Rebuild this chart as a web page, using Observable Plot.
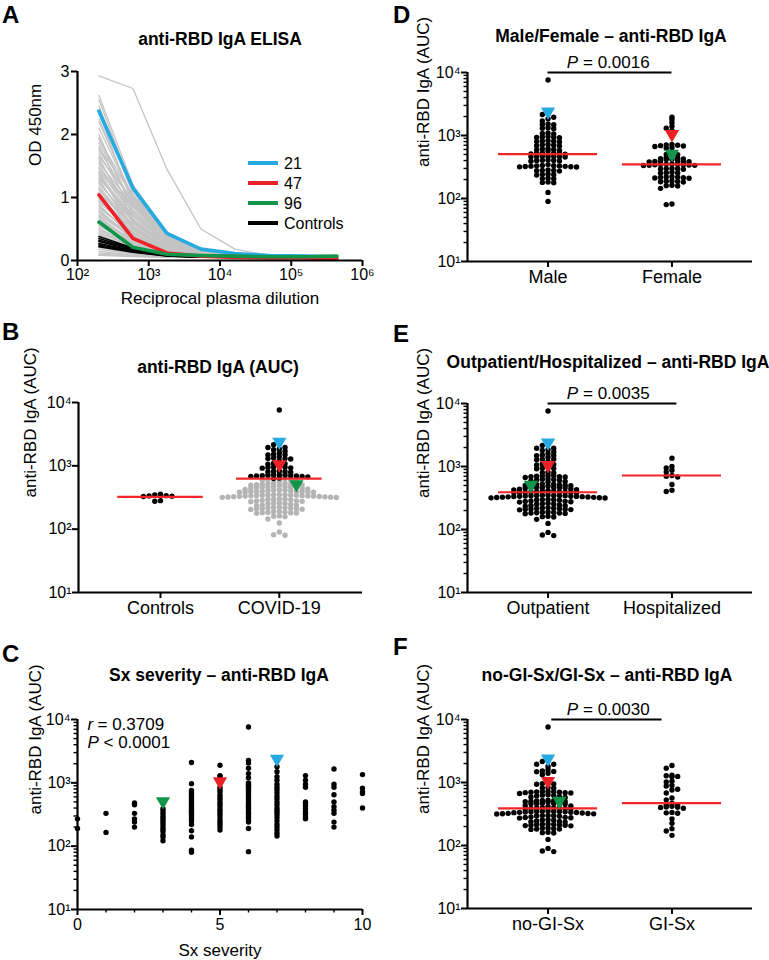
<!DOCTYPE html>
<html><head><meta charset="utf-8">
<script src="https://cdn.jsdelivr.net/npm/d3@7"></script>
<script src="https://cdn.jsdelivr.net/npm/@observablehq/plot@0.6"></script>
<style>
body{margin:0;background:#fff;}
#fig{position:relative;width:769px;height:960px;background:#fff;overflow:hidden;}
#fig svg{position:absolute;}
</style></head><body><div id="fig"></div>
<script>
// ---------------- DATA ----------------
// Panel A: ELISA dilution curves (OD 450nm at each reciprocal plasma dilution)
const dilutions = [200, 600, 1800, 5400, 16200, 48600, 145800, 437400];
const grayCurves = [
  [2.93,2.73,1.45,0.50,0.18,0.08,0.07,0.06],
  [2.62,1.20,0.45,0.17,0.09,0.06,0.06,0.05],
  [2.55,1.10,0.40,0.16,0.08,0.06,0.05,0.05],
  [2.45,1.05,0.38,0.15,0.08,0.06,0.05,0.05],
  [2.35,0.88,0.30,0.12,0.07,0.05,0.05,0.05],
  [2.25,0.95,0.35,0.13,0.07,0.06,0.05,0.05],
  [2.20,1.00,0.36,0.14,0.08,0.06,0.05,0.05],
  [2.10,0.98,0.37,0.14,0.07,0.05,0.05,0.05],
  [2.00,0.78,0.29,0.11,0.07,0.05,0.05,0.05],
  [1.95,0.85,0.31,0.12,0.07,0.05,0.05,0.05],
  [1.92,1.02,0.40,0.15,0.08,0.06,0.05,0.05],
  [1.87,0.90,0.33,0.12,0.07,0.05,0.05,0.05],
  [1.82,0.72,0.27,0.11,0.06,0.05,0.05,0.05],
  [1.78,1.05,0.42,0.15,0.08,0.06,0.05,0.05],
  [1.75,0.92,0.36,0.13,0.07,0.05,0.05,0.05],
  [1.70,0.80,0.30,0.11,0.07,0.05,0.05,0.05],
  [1.65,0.95,0.38,0.14,0.07,0.05,0.05,0.05],
  [1.62,0.66,0.25,0.10,0.06,0.05,0.05,0.05],
  [1.58,0.75,0.28,0.11,0.06,0.05,0.05,0.05],
  [1.55,0.88,0.34,0.12,0.07,0.05,0.05,0.05],
  [1.52,0.70,0.27,0.10,0.06,0.05,0.05,0.05],
  [1.48,0.64,0.24,0.10,0.06,0.05,0.05,0.05],
  [1.46,0.85,0.32,0.12,0.07,0.05,0.05,0.05],
  [1.42,0.78,0.30,0.11,0.06,0.05,0.05,0.05],
  [1.40,0.62,0.24,0.09,0.06,0.05,0.05,0.05],
  [1.38,0.52,0.20,0.09,0.06,0.05,0.05,0.05],
  [1.35,0.60,0.22,0.09,0.06,0.05,0.05,0.05],
  [1.32,0.66,0.25,0.10,0.06,0.05,0.05,0.05],
  [1.30,0.72,0.26,0.10,0.06,0.05,0.05,0.05],
  [1.28,0.48,0.19,0.08,0.06,0.05,0.05,0.05],
  [1.25,0.55,0.20,0.08,0.06,0.05,0.05,0.05],
  [1.22,0.62,0.23,0.09,0.06,0.05,0.05,0.05],
  [1.18,0.50,0.19,0.08,0.06,0.05,0.05,0.05],
  [1.15,0.44,0.17,0.08,0.05,0.05,0.05,0.05],
  [1.12,0.58,0.22,0.09,0.06,0.05,0.05,0.05],
  [1.08,0.54,0.20,0.08,0.05,0.05,0.05,0.05],
  [1.05,0.45,0.17,0.08,0.05,0.05,0.05,0.05],
  [1.02,0.38,0.15,0.07,0.05,0.05,0.05,0.05],
  [0.98,0.42,0.16,0.07,0.05,0.05,0.05,0.05],
  [0.95,0.52,0.19,0.08,0.05,0.05,0.05,0.05],
  [0.92,0.48,0.18,0.08,0.05,0.05,0.05,0.05],
  [0.89,0.36,0.14,0.07,0.05,0.05,0.05,0.05],
  [0.86,0.38,0.15,0.07,0.05,0.05,0.05,0.05],
  [0.83,0.44,0.16,0.07,0.05,0.05,0.05,0.05],
  [0.80,0.35,0.14,0.07,0.05,0.05,0.05,0.05],
  [0.78,0.32,0.13,0.06,0.05,0.05,0.05,0.05],
  [0.75,0.40,0.15,0.07,0.05,0.05,0.05,0.05],
  [0.72,0.37,0.14,0.06,0.05,0.05,0.05,0.05],
  [0.70,0.30,0.12,0.06,0.05,0.05,0.05,0.05],
  [0.68,0.27,0.11,0.06,0.05,0.05,0.05,0.05],
  [0.65,0.28,0.11,0.06,0.05,0.05,0.05,0.05],
  [0.62,0.34,0.13,0.06,0.05,0.05,0.05,0.05],
  [0.58,0.25,0.10,0.06,0.05,0.05,0.05,0.05],
  [0.55,0.28,0.11,0.06,0.05,0.05,0.05,0.05],
  [0.52,0.22,0.09,0.06,0.05,0.05,0.05,0.05],
  [0.50,0.19,0.08,0.05,0.05,0.05,0.05,0.05],
  [0.47,0.20,0.09,0.06,0.05,0.05,0.05,0.05],
  [0.44,0.21,0.09,0.06,0.05,0.05,0.05,0.05],
  [0.42,0.18,0.08,0.05,0.05,0.05,0.05,0.05],
  [0.39,0.15,0.07,0.05,0.05,0.05,0.05,0.05],
  [0.36,0.16,0.08,0.05,0.05,0.05,0.05,0.05],
  [0.33,0.17,0.08,0.05,0.05,0.05,0.05,0.05],
  [0.30,0.14,0.07,0.05,0.05,0.05,0.05,0.05],
  [0.27,0.11,0.06,0.05,0.05,0.05,0.05,0.05],
  [0.24,0.12,0.07,0.05,0.05,0.05,0.05,0.05],
  [0.21,0.11,0.06,0.05,0.05,0.05,0.05,0.05],
  [0.18,0.10,0.06,0.05,0.05,0.05,0.05,0.05],
  [0.15,0.08,0.06,0.05,0.05,0.05,0.05,0.05],
  [0.12,0.08,0.06,0.05,0.05,0.05,0.05,0.05],
  [0.10,0.07,0.05,0.05,0.05,0.05,0.05,0.05],
  [0.08,0.06,0.05,0.05,0.05,0.05,0.05,0.05]
];
const controlCurves = [
  [0.38,0.20,0.10,0.06,0.05,0.05,0.06,0.05],
  [0.35,0.19,0.09,0.06,0.05,0.05,0.05,0.05],
  [0.32,0.18,0.09,0.06,0.05,0.05,0.08,0.05],
  [0.30,0.17,0.08,0.06,0.05,0.05,0.05,0.05],
  [0.27,0.16,0.08,0.05,0.05,0.05,0.05,0.05],
  [0.25,0.15,0.08,0.05,0.05,0.05,0.05,0.05],
  [0.23,0.14,0.07,0.05,0.05,0.05,0.05,0.05],
  [0.22,0.13,0.07,0.05,0.05,0.05,0.05,0.05]
];
const curve21 = [2.37,1.15,0.43,0.18,0.11,0.08,0.07,0.06];
const curve47 = [1.04,0.35,0.12,0.07,0.05,0.04,0.04,0.03];
const curve96 = [0.61,0.21,0.10,0.08,0.07,0.06,0.06,0.07];

// Highlighted participants
const hlIds = ["21", "47", "96"];
const hlAUC = [2400, 1050, 510];
const hlSex = ["Male", "Female", "Female"];
const hlSeverity = [7, 5, 3];
const hlColors = ["#27aae1", "#ec2227", "#10954a"];

// AUC values
const ctrlAUC = [355, 348, 338, 335, 332, 328, 282, 276];
const maleAUC = [7600, 2250, 2150, 1950, 1850, 1700, 1520, 1500, 1480, 1330, 1300, 1280, 1100, 1080, 1060,
  960, 950, 940, 930, 920, 830, 820, 810, 800, 790, 720, 710, 700, 690, 680, 620, 610, 600, 590, 580, 570,
  530, 525, 520, 515, 510, 505, 470, 468, 465, 462, 460, 458, 455, 410, 405, 400, 398, 395, 390,
  345, 335, 332, 330, 328, 326, 324, 322, 320, 318, 316, 285, 280, 278, 275, 272, 245, 240, 238, 235,
  210, 207, 205, 182, 180, 178, 125, 90];
const femaleAUC = [1950, 1800, 1600, 1400, 1300, 1200, 720, 710, 700, 690, 680, 670, 640, 630, 500, 495, 490,
  440, 435, 430, 425, 420, 415, 395, 390, 388, 386, 384, 382, 352, 350, 348, 346, 344, 342, 340, 338, 336, 334,
  300, 298, 296, 294, 292, 260, 257, 255, 252, 222, 220, 218, 216, 214, 212, 210, 190, 188, 186, 184, 182,
  162, 160, 158, 145, 82, 80];
const hospitalizedAUC = [1350, 1000, 950, 870, 820, 720, 700, 680, 520, 420, 400];
const giAUC = [1860, 1690, 1300, 1280, 1250, 1230, 1050, 1020, 900, 880, 780, 760, 680, 570, 530, 470,
  440, 440, 420, 410, 405, 400, 390, 335, 330, 325, 265, 225, 185, 170, 145];
const severityLevels = [0, 1, 2, 3, 4, 5, 6, 7, 8, 9, 10];
const severityAUC = [
  [270, 190],
  [330, 165],
  [480, 450, 330, 270, 240, 200],
  [390, 360, 330, 300, 280, 260, 240, 220, 200, 185, 170, 150, 140, 122],
  [2100, 970, 760, 700, 650, 600, 560, 520, 480, 450, 420, 390, 370, 350, 330, 310, 290, 270, 250, 220, 175, 140, 86, 80],
  [1900, 1300, 1250, 850, 780, 720, 650, 600, 550, 500, 460, 420, 380, 350, 320, 290, 260, 240, 220, 200, 180],
  [7600, 2250, 2050, 1700, 1400, 1200, 1000, 950, 900, 850, 800, 750, 700, 650, 600, 560, 520, 480, 450, 420, 400, 380, 350, 330, 300, 280, 260, 240, 190, 82],
  [1800, 1500, 1250, 1100, 950, 850, 780, 700, 620, 560, 500, 450, 400, 370, 340, 310, 280, 250, 220, 200, 180, 160, 145],
  [1300, 1100, 950, 850, 500, 470, 430, 390, 350, 320, 290, 270],
  [1650, 950, 850, 650, 500, 420, 370, 330, 240, 200],
  [1350, 820, 720, 680, 400]
];
const pValues = {D: "0.0016", E: "0.0035", F: "0.0030"};

// ---------------- HELPERS ----------------
const FONT = "'Liberation Sans', Arial, Helvetica, sans-serif";
const RED = "#f2262a";
const SUP = {1: "\u00b9", 2: "\u00b2", 3: "\u00b3", 4: "\u2074", 5: "\u2075", 6: "\u2076"};
const pow10 = d => "10" + SUP[Math.round(Math.log10(d))];
const fig = document.getElementById("fig");
const minorTicks = [];
for (const dec of [10, 100, 1000]) for (let k = 2; k <= 9; k++) minorTicks.push(dec * k);

function style(left, top) {
  return {position: "absolute", left: left + "px", top: top + "px", background: "transparent",
    overflow: "visible", fontFamily: FONT, fontSize: "16px", color: "black"};
}
function margins(box, frame) {
  const [sx, sy, sw, sh] = box, [L, R, T, B] = frame;
  return {width: sw, height: sh, marginLeft: L - sx, marginRight: sx + sw - R, marginTop: T - sy, marginBottom: sy + sh - B};
}
// remove the nearest matching value of each given value from a pool
function without(all, removed) {
  const pool = all.slice();
  for (const r of removed) {
    let bi = 0, bd = Infinity;
    pool.forEach((v, i) => { const d = Math.abs(Math.log(v) - Math.log(r)); if (d < bd) { bd = d; bi = i; } });
    pool.splice(bi, 1);
  }
  return pool;
}
// column-scatter layout: bin values into rows, spread each row on a shared column grid
const PX_DEC = 63.2, ROW_PX = 4.2, COL_PX = 5.7;
function swarm(groups, pxPerUnit) {
  const out = [];
  groups.forEach(({values, hl}, g) => {
    const its = values.map(v => ({g, v, hl: -1})).concat((hl || []).map(k => ({g, v: hlAUC[k], hl: k})));
    const bins = d3.group(its, d => Math.round(Math.log10(d.v) * PX_DEC / ROW_PX));
    for (const arr of bins.values()) {
      arr.sort((a, b) => b.v - a.v);
      arr.forEach((d, i) => {
        const slot = i === 0 ? 0 : (i % 2 ? -(i + 1) / 2 : i / 2);
        d.x = g + slot * COL_PX / pxPerUnit; out.push(d);
      });
    }
  });
  return out;
}
function triangles(rows, xk, yk) {
  return hlIds.map((id, k) => Plot.dot(rows.filter(d => d.hl === k), {x: xk, y: yk, symbol: "triangle", r: 5.3, rotate: 180, fill: hlColors[k]}));
}
function logYAxes(minor, labelDx) {
  const m = [
    Plot.axisY({ticks: [10, 100, 1000, 10000], tickFormat: pow10, tickSize: 6, tickPadding: 1, strokeWidth: 2, label: null, fontSize: 16}),
    Plot.text(["anti-RBD IgA (AUC)"], {frameAnchor: "left", dx: labelDx, rotate: -90, lineAnchor: "middle", fontSize: 17})
  ];
  if (minor) m.push(Plot.axisY({ticks: minorTicks, tickSize: 3.5, strokeWidth: 1.4, tickFormat: () => "", label: null}));
  return m;
}

function swarmPanel({box, frame, xDomain, labels, groups, stat, half, grayBelow, pBar, minor, labelDx}) {
  const pxPerUnit = (frame[1] - frame[0]) / (xDomain[1] - xDomain[0]);
  const rows = swarm(groups, pxPerUnit);
  const stats = groups.map((gr, g) => ({g, m: stat(rows.filter(d => d.g === g).map(d => d.v))}));
  const dots = rows.filter(d => d.hl < 0);
  const marks = [
    Plot.ruleX([xDomain[0]], {stroke: "black", strokeWidth: 2.2}),
    Plot.ruleY([10], {stroke: "black", strokeWidth: 2.2}),
    ...logYAxes(minor, labelDx),
    Plot.axisX({ticks: labels.map((l, i) => i), tickFormat: i => labels[i], tickSize: 6, tickPadding: 3, strokeWidth: 2, label: null, fontSize: 18})
  ];
  if (grayBelow) {
    marks.push(Plot.dot(dots.filter(d => d.g === 1 && d.v <= stats[1].m), {x: "x", y: "v", r: 2.7, fill: "#b4b4b4"}));
    marks.push(Plot.dot(dots.filter(d => !(d.g === 1 && d.v <= stats[1].m)), {x: "x", y: "v", r: 2.7, fill: "black"}));
  } else {
    marks.push(Plot.dot(dots, {x: "x", y: "v", r: 2.7, fill: "black"}));
  }
  marks.push(Plot.ruleY(stats, {x1: d => d.g - half, x2: d => d.g + half, y: "m", stroke: RED, strokeWidth: 2.2}));
  marks.push(...triangles(rows, "x", "v"));
  if (pBar) {
    marks.push(Plot.ruleY([10000], {x1: pBar.x1, x2: pBar.x2, stroke: "black", strokeWidth: 2}));
    marks.push(Plot.text(["P"], {x: 0.5, y: 10000, dx: -32, dy: -5, textAnchor: "end", lineAnchor: "bottom", fontStyle: "italic", fontSize: 17}));
    marks.push(Plot.text(["= " + pBar.p], {x: 0.5, y: 10000, dx: -27, dy: -5, textAnchor: "start", lineAnchor: "bottom", fontSize: 17}));
  }
  return Plot.plot({
    ...margins(box, frame),
    style: style(box[0], box[1]),
    x: {domain: xDomain},
    y: {type: "log", domain: [10, 10000]},
    marks
  });
}

// ---------------- PANEL A ----------------
function longRows(curves, prefix) {
  const r = [];
  curves.forEach((c, i) => c.forEach((od, j) => r.push({id: prefix + i, dil: dilutions[j], od})));
  return r;
}
const grayRows = longRows(grayCurves, "g");
const ctrlRows = longRows(controlCurves, "c");
const hlCurves = [curve21, curve47, curve96];
{
  const box = [0, 50, 384, 265], frame = [77, 362, 71, 260];
  const marks = [
    Plot.line(grayRows, {x: "dil", y: "od", z: "id", stroke: "#c4c4c4", strokeWidth: 1.3}),
    Plot.line(ctrlRows, {x: "dil", y: "od", z: "id", stroke: "black", strokeWidth: 1.5})
  ];
  hlCurves.forEach((c, k) => marks.push(Plot.line(longRows([c], "h" + k), {x: "dil", y: "od", stroke: hlColors[k], strokeWidth: 3.6})));
  marks.push(
    Plot.ruleX([100], {stroke: "black", strokeWidth: 2.2}),
    Plot.ruleY([0], {stroke: "black", strokeWidth: 2.2}),
    Plot.axisX({ticks: [1e2, 1e3, 1e4, 1e5, 1e6], tickFormat: pow10, tickSize: 6, tickPadding: 2, strokeWidth: 2, label: null, fontSize: 16}),
    Plot.axisY({ticks: [0, 1, 2, 3], tickFormat: d => String(d), tickSize: 6, tickPadding: 2, strokeWidth: 2, label: null, fontSize: 16}),
    Plot.text(["Reciprocal plasma dilution"], {frameAnchor: "bottom", dy: 43, lineAnchor: "bottom", fontSize: 17}),
    Plot.text(["OD 450nm"], {frameAnchor: "left", dx: -42, rotate: -90, lineAnchor: "middle", fontSize: 17})
  );
  fig.appendChild(Plot.plot({
    ...margins(box, frame), style: style(box[0], box[1]),
    x: {type: "log", domain: [100, 1e6]}, y: {domain: [0, 3]}, marks
  }));
}

// ---------------- PANELS B, D, E, F ----------------
const covidAUC = maleAUC.concat(femaleAUC);
const allHl = [0, 1, 2];
fig.appendChild(swarmPanel({
  box: [0, 380, 384, 240], frame: [78, 362, 402, 592], xDomain: [-0.69, 1.70],
  labels: ["Controls", "COVID-19"],
  groups: [{values: ctrlAUC}, {values: covidAUC, hl: allHl}],
  stat: d3.mean, half: 0.36, grayBelow: true, minor: false, labelDx: -48
}));
fig.appendChild(swarmPanel({
  box: [384, 45, 385, 250], frame: [467, 752, 72, 261], xDomain: [-0.65, 1.65],
  labels: ["Male", "Female"],
  groups: [{values: maleAUC, hl: allHl.filter(k => hlSex[k] === "Male")}, {values: femaleAUC, hl: allHl.filter(k => hlSex[k] === "Female")}],
  stat: d3.median, half: 0.4, minor: true, labelDx: -44, pBar: {x1: 0, x2: 1, p: pValues.D}
}));
fig.appendChild(swarmPanel({
  box: [384, 380, 385, 240], frame: [467, 752, 403, 592], xDomain: [-0.65, 1.65],
  labels: ["Outpatient", "Hospitalized"],
  groups: [{values: without(covidAUC, hospitalizedAUC), hl: allHl}, {values: hospitalizedAUC}],
  stat: d3.median, half: 0.4, minor: true, labelDx: -44, pBar: {x1: 0, x2: 1.04, p: pValues.E}
}));
fig.appendChild(swarmPanel({
  box: [384, 695, 385, 250], frame: [467, 752, 719, 908], xDomain: [-0.65, 1.65],
  labels: ["no-GI-Sx", "GI-Sx"],
  groups: [{values: without(covidAUC, giAUC), hl: allHl}, {values: giAUC}],
  stat: d3.median, half: 0.4, minor: true, labelDx: -44, pBar: {x1: 0.03, x2: 0.92, p: pValues.F}
}));

// ---------------- PANEL C ----------------
{
  const box = [0, 700, 384, 260], frame = [77, 362, 719, 909];
  const sevRows = [];
  severityLevels.forEach((s, i) => severityAUC[i].forEach(v => sevRows.push({s, v, hl: -1})));
  hlIds.forEach((id, k) => sevRows.push({s: hlSeverity[k], v: hlAUC[k], hl: k}));
  fig.appendChild(Plot.plot({
    ...margins(box, frame), style: style(box[0], box[1]),
    x: {domain: [0, 10]}, y: {type: "log", domain: [10, 10000]},
    marks: [
      Plot.ruleX([0], {stroke: "black", strokeWidth: 2.2}),
      Plot.ruleY([10], {stroke: "black", strokeWidth: 2.2}),
      ...logYAxes(true, -42),
      Plot.axisX({ticks: [0, 5, 10], tickFormat: d => String(d), tickSize: 6, tickPadding: 3, strokeWidth: 2, label: null, fontSize: 16}),
      Plot.axisX({ticks: [1, 2, 3, 4, 6, 7, 8, 9], tickFormat: () => "", tickSize: 3.5, strokeWidth: 1.4, label: null}),
      Plot.dot(sevRows.filter(d => d.hl < 0), {x: "s", y: "v", r: 2.7, fill: "black"}),
      ...triangles(sevRows, "s", "v"),
      Plot.text(["r"], {frameAnchor: "top-left", dx: 10, dy: 10, textAnchor: "start", lineAnchor: "bottom", fontStyle: "italic", fontSize: 17}),
      Plot.text(["= 0.3709"], {frameAnchor: "top-left", dx: 20, dy: 10, textAnchor: "start", lineAnchor: "bottom", fontSize: 17}),
      Plot.text(["P"], {frameAnchor: "top-left", dx: 10, dy: 28, textAnchor: "start", lineAnchor: "bottom", fontStyle: "italic", fontSize: 17}),
      Plot.text(["< 0.0001"], {frameAnchor: "top-left", dx: 26, dy: 28, textAnchor: "start", lineAnchor: "bottom", fontSize: 17}),
      Plot.text(["Sx severity"], {frameAnchor: "bottom", dy: 46, lineAnchor: "bottom", fontSize: 17})
    ]
  }));
}

// ---------------- TITLES, LETTERS, LEGEND ----------------
const ov = d3.select(fig).append("svg").attr("width", 769).attr("height", 960)
  .style("left", "0px").style("top", "0px").style("font-family", FONT).style("pointer-events", "none");
const letters = [["A", 2, 23], ["B", 2, 340], ["C", 2, 662], ["D", 393, 23], ["E", 393, 342], ["F", 393, 655]];
ov.selectAll("text.letter").data(letters).join("text").attr("class", "letter")
  .attr("x", d => d[1]).attr("y", d => d[2]).attr("font-size", 24).attr("font-weight", "bold").text(d => d[0]);
const titles = [["anti-RBD IgA ELISA", 220, 45], ["anti-RBD IgA (AUC)", 218, 373], ["Sx severity \u2013 anti-RBD IgA", 219, 681],
  ["Male/Female \u2013 anti-RBD IgA", 611, 42], ["Outpatient/Hospitalized \u2013 anti-RBD IgA", 608, 368], ["no-GI-Sx/GI-Sx \u2013 anti-RBD IgA", 607, 681]];
ov.selectAll("text.title").data(titles).join("text").attr("class", "title")
  .attr("x", d => d[1]).attr("y", d => d[2]).attr("text-anchor", "middle").attr("font-size", 17.5).attr("font-weight", "bold").text(d => d[0]);
const legendItems = hlIds.map((id, k) => [id, hlColors[k]]).concat([["Controls", "black"]]);
const lg = ov.selectAll("g.lg").data(legendItems).join("g").attr("class", "lg").attr("transform", (d, i) => `translate(248,${163 + i * 20})`);
lg.append("line").attr("x1", 0).attr("x2", 30).attr("stroke", d => d[1]).attr("stroke-width", 4);
lg.append("text").attr("x", 36).attr("dy", "0.36em").attr("font-size", 16).text(d => d[0]);
</script></body></html>
